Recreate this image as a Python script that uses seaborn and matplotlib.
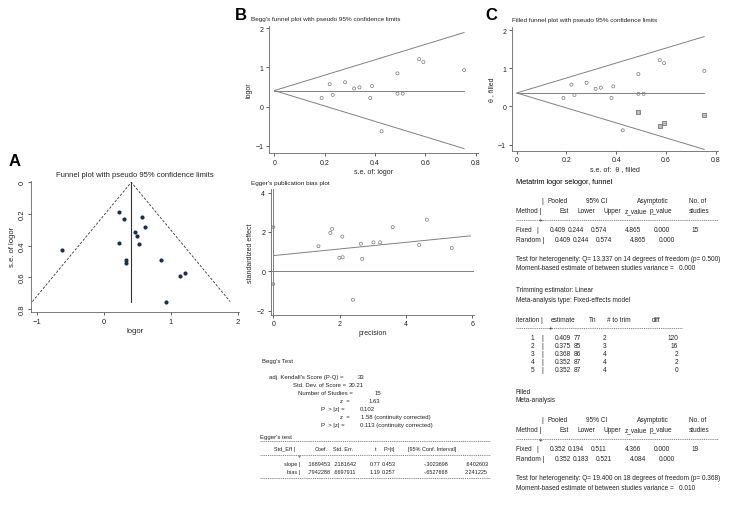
import numpy as np
import pandas as pd
import seaborn as sns
import matplotlib.pyplot as plt
from matplotlib.lines import Line2D

# study level data
se = [0.188, 0.220, 0.232, 0.281, 0.317, 0.338, 0.381, 0.388, 0.426, 0.489, 0.489, 0.510, 0.575, 0.592, 0.754]
logor = [0.22, 0.57, 0.30, 0.62, 0.46, 0.49, 0.22, 0.525, -0.627, 0.847, 0.33, 0.33, 1.21, 1.135, 0.93]

# Egger plot (precision vs standardized effect)
precision = [1.36, 1.72, 1.77, 2.08, 1.99, 2.09, 2.40, 2.64, 2.68, 3.02, 3.22, 3.60, 4.40, 4.63, 5.38]
std_effect = [1.27, 1.95, 2.15, 1.76, 0.68, 0.71, -1.45, 1.40, 0.63, 1.47, 1.47, 2.24, 1.34, 2.62, 1.18]
egger_slope, egger_bias = 0.1689453, 0.7942288
egger_bias_ci = [-0.6527668, 2.241225]

# trim and fill: imputed studies
filled_se = [0.489, 0.575, 0.592, 0.754]
filled_theta = [-0.14, -0.50, -0.43, -0.22]

pooled_fixed = 0.409
pooled_filled = 0.352

df = pd.DataFrame({"se": se, "logor": logor})
df_egger = pd.DataFrame({"precision": precision, "std_effect": std_effect})
df_fill = pd.DataFrame({"se": filled_se, "theta": filled_theta})

sns.set_style("ticks")
plt.rcParams['font.family'] = ['Liberation Sans', 'DejaVu Sans']
plt.rcParams['axes.linewidth'] = 0.6
plt.rcParams['xtick.major.size'] = 2.5
plt.rcParams['ytick.major.size'] = 2.5
plt.rcParams['xtick.major.width'] = 0.6
plt.rcParams['ytick.major.width'] = 0.6
plt.rcParams['xtick.major.pad'] = 1.5
plt.rcParams['ytick.major.pad'] = 1.5

W, H = 732, 510
fig = plt.figure(figsize=(W / 100, H / 100), dpi=100)
TXT = '#222222'
GREY = '#808080'


def box(l, t, r, b):
    return [l / W, 1 - b / H, (r - l) / W, (b - t) / H]


def T(x, y, s, size=5, **kw):
    kw.setdefault('color', TXT)
    kw.setdefault('va', 'center_baseline')
    fig.text(x / W, 1 - y / H, s, fontsize=size, **kw)


def dashes(x0, x1, y):
    fig.add_artist(Line2D([x0 / W, x1 / W], [1 - y / H, 1 - y / H], color='#555555',
                          lw=0.5, ls=(0, (1.5, 1.2)), transform=fig.transFigure))


def style(ax, size=5):
    sns.despine(ax=ax)
    ax.tick_params(labelsize=size, colors='#444444', labelcolor=TXT)
    for s in ['left', 'bottom']:
        ax.spines[s].set_color('#666666')


# ---------------- Panel A ----------------
axA = fig.add_axes(box(31, 181.7, 239, 313))
se_max = max(se)
axA.plot([pooled_fixed - 1.96 * se_max, pooled_fixed, pooled_fixed + 1.96 * se_max],
         [se_max, 0, se_max], color='#333333', lw=0.6, ls=(0, (3, 2)))
axA.plot([pooled_fixed, pooled_fixed], [0, se_max], color='#333333', lw=0.8)
sns.scatterplot(data=df, x="logor", y="se", ax=axA, color='#1b2f4e', s=9,
                linewidth=0, marker='o')
axA.set_xlim(-1.09, 2.02)
axA.set_ylim(0.82, -0.01)
axA.set_xticks([-1, 0, 1, 2])
axA.set_yticks([0, 0.2, 0.4, 0.6, 0.8])
axA.set_yticklabels(['0', '0.2', '0.4', '0.6', '0.8'], rotation=90, va='center')
axA.set_xlabel("logor", fontsize=5.5, labelpad=2)
axA.set_ylabel("s.e. of logor", fontsize=5.5, labelpad=2)
style(axA, 5.5)
T(135, 174.3, "Funnel plot with pseudo 95% confidence limits", size=5.5, ha='center')
T(15, 160.5, "A", size=12, ha='center', weight='bold', color='black')

# ---------------- Panel B ----------------
axB = fig.add_axes(box(269, 26.7, 478.3, 154))
axB.plot([0, se_max], [pooled_fixed, pooled_fixed + 1.96 * se_max], color=GREY, lw=0.7)
axB.plot([0, se_max], [pooled_fixed, pooled_fixed - 1.96 * se_max], color=GREY, lw=0.7)
axB.plot([0, se_max], [pooled_fixed, pooled_fixed], color=GREY, lw=0.7)
sns.scatterplot(data=df, x="se", y="logor", ax=axB, marker='o', s=5,
                facecolor='none', edgecolor='#777777', linewidth=0.5)
axB.set_xlim(-0.021, 0.81)
axB.set_ylim(-1.18, 2.06)
axB.set_xticks([0, 0.2, 0.4, 0.6, 0.8])
axB.set_xticklabels(['0', '0.2', '0.4', '0.6', '0.8'])
axB.set_yticks([-1, 0, 1, 2])
axB.set_xlabel("s.e. of: logor", fontsize=5, labelpad=1.5)
axB.set_ylabel("logor", fontsize=5, labelpad=2)
style(axB)
T(251, 19, "Begg's funnel plot with pseudo 95% confidence limits", size=4.6)
T(241, 14, "B", size=12, ha='center', weight='bold', color='black')

# ---------------- Egger plot ----------------
axE = fig.add_axes(box(270.7, 190, 473.9, 315.7))
axE.axhline(0, color=GREY, lw=0.7)
axE.axvline(0, color=GREY, lw=0.7)
xs = np.array([0, 5.95])
axE.plot(xs, egger_bias + egger_slope * xs, color=GREY, lw=0.7)
sns.scatterplot(data=df_egger, x="precision", y="std_effect", ax=axE, marker='o', s=5,
                facecolor='none', edgecolor='#777777', linewidth=0.5)
sns.scatterplot(x=[0, 0], y=egger_bias_ci, ax=axE, marker='o', s=4,
                facecolor='none', edgecolor='#777777', linewidth=0.5)
axE.set_xlim(-0.08, 6.05)
axE.set_ylim(-2.21, 4.18)
axE.set_xticks([0, 2, 4, 6])
axE.set_yticks([-2, 0, 2, 4])
axE.set_xlabel("precision", fontsize=5, labelpad=1.5)
axE.set_ylabel("standardized effect", fontsize=5, labelpad=2)
style(axE)
T(251, 183, "Egger's publication bias plot", size=4.6)

# ---------------- Panel C ----------------
pf = pooled_filled
axC = fig.add_axes(box(511.7, 28, 718.3, 151.7))
axC.plot([0, se_max], [pf, pf + 1.96 * se_max], color=GREY, lw=0.7)
axC.plot([0, se_max], [pf, pf - 1.96 * se_max], color=GREY, lw=0.7)
axC.plot([0, se_max], [pf, pf], color=GREY, lw=0.7)
sns.scatterplot(data=df, x="se", y="logor", ax=axC, marker='o', s=5,
                facecolor='none', edgecolor='#777777', linewidth=0.5)
sns.scatterplot(data=df_fill, x="se", y="theta", ax=axC, marker='s', s=9,
                facecolor='#bbbbbb', edgecolor='#666666', linewidth=0.5)
axC.set_xlim(-0.02, 0.81)
axC.set_ylim(-1.16, 2.08)
axC.set_xticks([0, 0.2, 0.4, 0.6, 0.8])
axC.set_xticklabels(['0', '0.2', '0.4', '0.6', '0.8'])
axC.set_yticks([-1, 0, 1, 2])
axC.set_xlabel("s.e. of:  θ , filled", fontsize=5, labelpad=1.5)
axC.set_ylabel("θ , filled", fontsize=5, labelpad=2)
style(axC)
T(512, 20, "Filled funnel plot with pseudo 95% confidence limits", size=4.6)
T(491, 14, "C", size=12, ha='center', weight='bold', color='black')

# ---------------- Begg's test text ----------------
BS = 4.3
begg_labels = ["adj. Kendall's Score (P-Q) =", "Std. Dev. of Score =", "Number of Studies =",
               "z  =", "P  > |z| =", "z  =", "P  > |z| ="]
begg_values = ["33", "20.21", "15", "1.63", "0.102",
               "1.58 (continuity corrected)", "0.113 (continuity corrected)"]
label_x = [269, 293, 298, 340, 321, 340, 321]
value_x = [358, 349, 375, 369, 360, 361, 360]
T(262, 361, "Begg's Test", size=BS)
for i, (lab, val) in enumerate(zip(begg_labels, begg_values)):
    y = 377 + 8 * i
    T(label_x[i], y, lab, size=BS)
    T(value_x[i], y, val, size=BS)

# ---------------- Egger's test table ----------------
ES = 4.0
T(260, 437, "Egger's test", size=BS)
dashes(260, 490, 442)
egger_head = ["Std_Eff |", "Coef.", "Std. Err.", "t", "P>|t|", "[95% Conf. Interval]"]
head_x = [274, 315, 333, 375, 384, 408]
for x, s in zip(head_x, egger_head):
    T(x, 449, s, size=ES)
dashes(260, 490, 456)
T(298, 456, "+", size=ES)
egger_rows = [["slope |", ".1689453", ".2181642", "0.77", "0.453", "-.3023698", ".6402603"],
              ["bias |", ".7942288", ".6697911", "1.19", "0.257", "-.6527668", "2.241225"]]
row_x = [300, 308, 333, 370, 382, 424, 465]
for j, row in enumerate(egger_rows):
    y = 464 + 8.5 * j
    for k, s in enumerate(row):
        T(row_x[k], y, s, size=ES, ha='right' if k == 0 else 'left')
dashes(260, 490, 479)

# ---------------- Metatrim output ----------------
RS = 4.7
T(516, 182, "Metatrim logor selogor, funnel", size=5.3, color='black')


def meta_table(y0, fixed, random_, test, moment):
    h1 = ["|", "Pooled", "95% CI", "Asymptotic", "No. of"]
    h1x = [541, 548, 586, 637, 689]
    for x, s in zip(h1x, h1):
        T(x, y0, s, size=RS)
    h2 = ["Method |", "Est", "Lower", "Upper", "z_value", "p_value", "studies"]
    h2x = [516, 560, 578, 604, 625, 650, 689]
    for x, s in zip(h2x, h2):
        T(x, y0 + 10, s, size=RS)
    dashes(516, 718, y0 + 20)
    T(539, y0 + 20, "+", size=RS)
    T(516, y0 + 29, "Fixed   |", size=RS)
    for x, s in zip([550, 568, 591, 625, 654, 692], fixed):
        T(x, y0 + 29, s, size=RS)
    T(516, y0 + 38.5, "Random |", size=RS)
    for x, s in zip([555, 573, 596, 630, 659], random_):
        T(x, y0 + 38.5, s, size=RS)
    T(516, y0 + 57.5, test, size=RS)
    T(516, y0 + 67, moment, size=RS)


meta_table(201,
           ["0.409", "0.244", "0.574", "4.865", "0.000", "15"],
           ["0.409", "0.244", "0.574", "4.865", "0.000"],
           "Test for heterogeneity: Q= 13.337 on 14 degrees of freedom (p= 0.500)",
           "Moment-based estimate of between studies variance =   0.000")

T(516, 289, "Trimming estimator: Linear", size=RS)
T(516, 299, "Meta-analysis type: Fixed-effects model", size=RS)

iter_head = ["iteration |", "estimate", "Tn", "# to trim", "diff"]
for x, s in zip([516, 551, 589, 607, 652], iter_head):
    T(x, 320, s, size=RS)
dashes(516, 682, 329)
T(549, 329, "+", size=RS)
iter_n = ["1", "2", "3", "4", "5"]
iter_est = ["0.409", "0.375", "0.368", "0.352", "0.352"]
iter_tn = ["77", "85", "86", "87", "87"]
iter_trim = ["2", "3", "4", "4", "4"]
iter_diff = ["120", "16", "2", "2", "0"]
for i in range(5):
    y = 338 + 7.8 * i
    T(531, y, iter_n[i], size=RS)
    T(541, y, "|", size=RS)
    T(555, y, iter_est[i], size=RS)
    T(574, y, iter_tn[i], size=RS)
    T(603, y, iter_trim[i], size=RS)
    T(678, y, iter_diff[i], size=RS, ha='right')

T(516, 391, "Filled", size=RS)
T(516, 400, "Meta-analysis", size=RS)
meta_table(420,
           ["0.352", "0.194", "0.511", "4.366", "0.000", "19"],
           ["0.352", "0.183", "0.521", "4.084", "0.000"],
           "Test for heterogeneity: Q= 19.400 on 18 degrees of freedom (p= 0.368)",
           "Moment-based estimate of between studies variance =   0.010")

fig.savefig("out.png", dpi=100)
